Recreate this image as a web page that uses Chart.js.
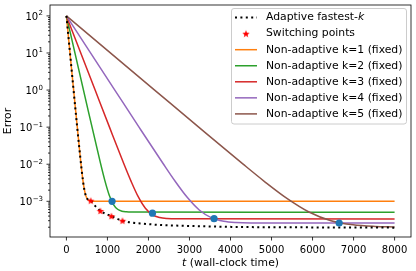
<!DOCTYPE html>
<html><head><meta charset="utf-8">
<script src="https://cdn.jsdelivr.net/npm/chart.js@4"></script>
<style>html,body{margin:0;padding:0;background:#fff;}#wrap{position:relative;width:416px;height:271px;}</style>
</head><body><div id="wrap"><canvas id="c" width="416" height="271"></canvas></div>
<script>
// ---- tick labels ----
const xTickValues = [0, 1000, 2000, 3000, 4000, 5000, 6000, 7000, 8000];
const yMajorTicks = [1e-3, 1e-2, 1e-1, 1, 10, 100];
const yTickBase = '10';
const yTickExponents = ['−3', '−2', '−1', '0', '1', '2'];
const xTitle = ['t', ' (wall-clock time)'];
const yTitle = 'Error';

// ---- series (t = wall-clock time, err = error) ----
const adT   = [0, 341, 405, 440, 480, 530, 593, 700, 829, 960, 1097, 1230, 1366, 1620, 1870, 2276, 2900, 3500, 4200, 5000, 6000, 7000, 8000];
const adErr = [100, 0.0143, 0.0035, 0.002, 0.00135, 0.0011, 0.00104, 0.00075, 0.00055, 0.00046, 0.0004, 0.00034, 0.0003, 0.000265, 0.00025, 0.00023, 0.000218, 0.00021, 0.000203, 0.0002, 0.000198, 0.000196, 0.000195];

const swT   = [593, 829, 1097, 1366];
const swErr = [0.00104, 0.00055, 0.0004, 0.0003];

const k1T   = [0, 341, 405, 440, 480, 530, 600, 700, 8000];
const k1Err = [100, 0.0143, 0.0035, 0.002, 0.00135, 0.0011, 0.00102, 0.001, 0.001];

const k2T   = [0, 416, 832, 936, 1040, 1144, 1248, 1352, 1456, 1600, 8000];
const k2Err = [100, 1.0, 0.0105, 0.00367, 0.00151, 0.00083, 0.00061, 0.000542, 0.00052, 0.000512, 0.00051];

const k3T   = [0, 700, 1050, 1400, 1575, 1750, 1925, 2100, 2275, 2450, 2700, 8000];
const k3Err = [100, 1.0, 0.1, 0.0103, 0.0035, 0.00133, 0.00065, 0.000433, 0.000365, 0.000343, 0.000336, 0.000333];

const k4T   = [0, 1180, 1770, 2360, 2655, 2950, 3245, 3540, 3835, 4130, 4500, 8000];
const k4Err = [100, 1.0, 0.1, 0.0103, 0.00342, 0.00126, 0.000574, 0.000358, 0.00029, 0.000268, 0.000261, 0.000258];

const k5T   = [0, 2150, 3225, 4300, 4837, 5375, 5912, 6450, 6987, 7525, 8000];
const k5Err = [100, 1.0, 0.1, 0.0102, 0.00336, 0.0012, 0.000516, 0.0003, 0.000232, 0.00021, 0.000204];

// points where each fixed-k run reaches the previous k's floor
const dotT   = [1113, 2097, 3600, 6649];
const dotErr = [0.001, 0.00048, 0.00034, 0.00026];

const kLabels = ['Non-adaptive k=1 (fixed)', 'Non-adaptive k=2 (fixed)', 'Non-adaptive k=3 (fixed)', 'Non-adaptive k=4 (fixed)', 'Non-adaptive k=5 (fixed)'];
const kColors = ['#ff7f0e', '#2ca02c', '#d62728', '#9467bd', '#8c564b'];

// ---- styling ----
const FONT = '"DejaVu Sans", sans-serif';
const LABEL_PX = 10.8;
const DOT_DASH = [2, 3.4];

function makeStar(color, R) {
  const s = Math.ceil(R * 2 + 2);
  const c = document.createElement('canvas'); c.width = s; c.height = s;
  const g = c.getContext('2d');
  g.fillStyle = color;
  g.beginPath();
  for (let i = 0; i < 10; i++) {
    const r = i % 2 === 0 ? R : R * 0.42;
    const a = -Math.PI / 2 + i * Math.PI / 5;
    g.lineTo(s / 2 + r * Math.cos(a), s / 2 + 0.4 + r * Math.sin(a));
  }
  g.closePath(); g.fill();
  return c;
}
const starImg = makeStar('#ff0000', 3.9);

const mk = (ts, es) => ts.map((t, i) => ({ x: t, y: es[i] }));

const kSets = [k1T, k2T, k3T, k4T, k5T].map((ts, i) => ({
  label: kLabels[i],
  data: mk(ts, [k1Err, k2Err, k3Err, k4Err, k5Err][i]),
  borderColor: kColors[i],
  backgroundColor: kColors[i],
  borderWidth: 1.5,
  pointRadius: 0,
  cubicInterpolationMode: 'monotone',
  order: 7 - i
}));

const datasets = [
  { label: 'Adaptive fastest-k', data: mk(adT, adErr), borderColor: '#000', backgroundColor: '#000',
    borderWidth: 2, borderDash: DOT_DASH, borderCapStyle: 'butt', pointRadius: 0,
    cubicInterpolationMode: 'monotone', order: 2 },
  { label: 'Switching points', data: mk(swT, swErr), showLine: false, pointStyle: starImg,
    pointRadius: 4, borderColor: '#ff0000', backgroundColor: '#ff0000', order: 0 },
  ...kSets,
  { label: '', data: mk(dotT, dotErr), showLine: false, pointRadius: 3.6, pointBorderWidth: 0,
    pointBackgroundColor: '#1f77b4', borderColor: '#1f77b4', backgroundColor: '#1f77b4', order: 1 }
];

const decor = {
  id: 'decor',
  afterDraw(chart) {
    const ctx = chart.ctx, a = chart.chartArea;
    const xs = chart.scales.x, ys = chart.scales.y;
    ctx.save();
    // ticks
    ctx.strokeStyle = '#000'; ctx.lineWidth = 0.8;
    ctx.beginPath();
    xTickValues.forEach(v => { const p = xs.getPixelForValue(v); ctx.moveTo(p, a.bottom); ctx.lineTo(p, a.bottom + 3.5); });
    yMajorTicks.forEach(v => { const p = ys.getPixelForValue(v); ctx.moveTo(a.left, p); ctx.lineTo(a.left - 3.5, p); });
    for (let e = -5; e <= 2; e++) {
      for (let m = 2; m <= 9; m++) {
        const v = m * Math.pow(10, e);
        if (v < ys.min || v > ys.max) continue;
        const p = ys.getPixelForValue(v);
        ctx.moveTo(a.left, p); ctx.lineTo(a.left - 2, p);
      }
    }
    ctx.stroke();
    // spines
    ctx.strokeRect(a.left, a.top, a.right - a.left, a.bottom - a.top);

    // y tick labels: 10 with superscript exponent
    ctx.fillStyle = '#000';
    ctx.textBaseline = 'alphabetic';
    ctx.textAlign = 'left';
    const rightEdge = a.left - 7;
    yMajorTicks.forEach((v, i) => {
      const p = ys.getPixelForValue(v);
      ctx.font = '10px ' + FONT;
      const wb = ctx.measureText(yTickBase).width;
      ctx.font = '7px ' + FONT;
      const we = ctx.measureText(yTickExponents[i]).width;
      const x0 = rightEdge - wb - we - 0.4;
      ctx.font = '10px ' + FONT;
      ctx.fillText(yTickBase, x0, p + 3.7);
      ctx.font = '7px ' + FONT;
      ctx.fillText(yTickExponents[i], x0 + wb + 0.4, p - 0.5);
    });

    // axis titles
    ctx.textBaseline = 'middle';
    ctx.font = 'italic ' + LABEL_PX + 'px ' + FONT;
    const w0 = ctx.measureText(xTitle[0]).width;
    ctx.font = LABEL_PX + 'px ' + FONT;
    const w1 = ctx.measureText(xTitle[1]).width;
    const cx = (a.left + a.right) / 2;
    const x0 = cx - (w0 + w1) / 2;
    ctx.textAlign = 'left';
    ctx.font = 'italic ' + LABEL_PX + 'px ' + FONT;
    ctx.fillText(xTitle[0], x0, 263);
    ctx.font = LABEL_PX + 'px ' + FONT;
    ctx.fillText(xTitle[1], x0 + w0, 263);
    ctx.save();
    ctx.translate(8.5, (a.top + a.bottom) / 2);
    ctx.rotate(-Math.PI / 2);
    ctx.textAlign = 'center';
    ctx.fillText(yTitle, 0, 0);
    ctx.restore();

    // legend
    const bx = 231.5, by = 8.5, bw = 175, bh = 115.5;
    ctx.beginPath();
    ctx.roundRect(bx, by, bw, bh, 2.5);
    ctx.fillStyle = 'rgba(255,255,255,0.8)';
    ctx.fill();
    ctx.strokeStyle = '#cccccc'; ctx.lineWidth = 1;
    ctx.stroke();
    const ds = chart.data.datasets;
    const rows = [0, 1, 2, 3, 4, 5, 6];
    rows.forEach((di, r) => {
      const d = ds[di];
      const y = 17.6 + r * 16.05;
      const hx0 = 235, hx1 = 257;
      if (d.showLine === false) {
        ctx.drawImage(d.pointStyle, (hx0 + hx1) / 2 - d.pointStyle.width / 2, y - d.pointStyle.height / 2);
      } else {
        ctx.save();
        ctx.strokeStyle = d.borderColor; ctx.lineWidth = d.borderWidth;
        ctx.setLineDash(d.borderDash || []);
        ctx.lineCap = 'butt';
        ctx.beginPath(); ctx.moveTo(hx0, y); ctx.lineTo(hx1, y); ctx.stroke();
        ctx.restore();
      }
      ctx.fillStyle = '#000';
      ctx.textAlign = 'left';
      ctx.textBaseline = 'middle';
      ctx.font = LABEL_PX + 'px ' + FONT;
      if (d.label === 'Adaptive fastest-k') {
        const t1 = 'Adaptive fastest-';
        ctx.fillText(t1, 266, y);
        const w = ctx.measureText(t1).width;
        ctx.font = 'italic ' + LABEL_PX + 'px ' + FONT;
        ctx.fillText('k', 266 + w, y);
      } else {
        ctx.fillText(d.label, 266, y);
      }
    });
    ctx.restore();
  }
};

Chart.defaults.font.family = FONT;
Chart.defaults.font.size = 10;
Chart.defaults.color = '#000';

new Chart(document.getElementById('c'), {
  type: 'line',
  data: { datasets },
  options: {
    responsive: false,
    animation: false,
    devicePixelRatio: 1,
    layout: { padding: { left: 0, right: 4, top: 3, bottom: 0 } },
    plugins: { legend: { display: false }, tooltip: { enabled: false } },
    scales: {
      x: {
        type: 'linear', min: -400, max: 8400,
        grid: { display: false, drawTicks: true, tickLength: 3.5 },
        border: { display: false },
        ticks: { padding: 3.5, autoSkip: false, maxRotation: 0, callback: v => String(v), font: { size: 10 } },
        afterBuildTicks: s => { s.ticks = xTickValues.map(v => ({ value: v })); },
        afterFit: s => { s.height = 34; s.paddingLeft = 0; s.paddingRight = 0; }
      },
      y: {
        type: 'logarithmic', min: 1.09e-4, max: 196.8,
        grid: { display: false, drawTicks: true, tickLength: 3.5 },
        border: { display: false },
        ticks: { display: false, autoSkip: false },
        afterBuildTicks: s => { s.ticks = yMajorTicks.map(v => ({ value: v })); },
        afterFit: s => { s.width = 50; s.paddingTop = 0; s.paddingBottom = 0; }
      }
    }
  },
  plugins: [decor]
});
</script>
</body></html>
